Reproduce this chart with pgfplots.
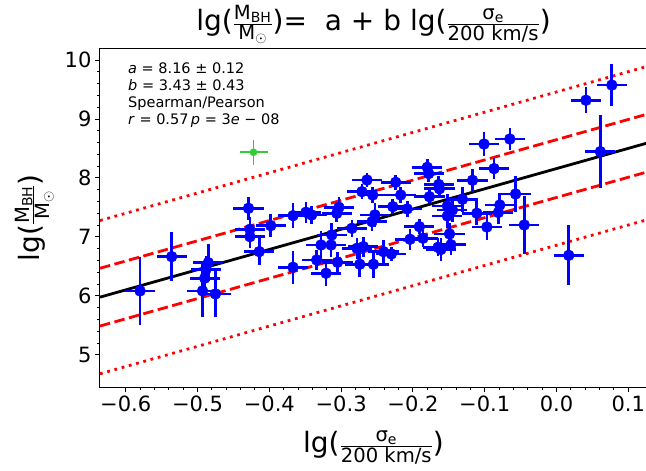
\documentclass[border=0pt]{standalone}
\usepackage{pgfplots}
\pgfplotsset{compat=1.18}
\usepackage{pgfplotstable}
\usepackage{amsmath}
\usepackage{fontspec}
\setmainfont{DejaVu Sans}
\usetikzlibrary{calc}

\definecolor{limeg}{RGB}{50,205,50}

% lg(sigma_e/200 km/s), lg(M_BH/M_sun) and their errors
\pgfplotstableread{
x y ex ey
-0.580 6.085 0.021 0.58
-0.536 6.666 0.021 0.42
-0.485 6.564 0.021 0.31
-0.488 6.453 0.021 0.22
-0.490 6.300 0.021 0.22
-0.493 6.085 0.021 0.45
-0.475 6.034 0.021 0.40
-0.429 7.486 0.021 0.19
-0.427 7.131 0.021 0.20
-0.427 7.005 0.021 0.20
-0.414 6.751 0.021 0.23
-0.398 7.192 0.021 0.19
-0.367 6.486 0.021 0.28
-0.367 7.361 0.021 0.21
-0.349 7.419 0.021 0.18
-0.341 7.373 0.021 0.15
-0.303 7.503 0.021 0.18
-0.306 7.402 0.021 0.15
-0.313 7.034 0.021 0.21
-0.328 6.864 0.021 0.23
-0.314 6.864 0.021 0.20
-0.334 6.610 0.021 0.17
-0.321 6.385 0.021 0.22
-0.305 6.571 0.021 0.18
-0.285 7.147 0.021 0.14
-0.264 7.966 0.021 0.12
-0.271 7.768 0.021 0.13
-0.256 7.712 0.021 0.14
-0.253 7.373 0.021 0.21
-0.257 7.259 0.021 0.15
-0.278 6.808 0.021 0.18
-0.269 6.836 0.021 0.17
-0.274 6.537 0.021 0.21
-0.255 6.537 0.021 0.23
-0.224 7.927 0.021 0.13
-0.217 7.712 0.021 0.14
-0.228 7.514 0.021 0.13
-0.208 7.475 0.021 0.14
-0.241 6.751 0.021 0.19
-0.230 6.712 0.021 0.12
-0.180 8.181 0.021 0.14
-0.177 7.683 0.021 0.11
-0.191 7.175 0.021 0.13
-0.204 6.961 0.021 0.18
-0.186 6.978 0.021 0.14
-0.165 6.825 0.021 0.15
-0.178 8.075 0.021 0.14
-0.164 7.890 0.021 0.15
-0.163 7.817 0.021 0.15
-0.152 7.525 0.021 0.20
-0.152 7.356 0.021 0.20
-0.145 7.458 0.021 0.20
-0.147 6.868 0.021 0.18
-0.161 6.788 0.021 0.20
-0.149 7.051 0.021 0.18
-0.131 7.639 0.021 0.21
-0.117 7.961 0.021 0.20
-0.111 7.402 0.021 0.20
-0.097 7.169 0.021 0.22
-0.101 8.576 0.021 0.20
-0.065 8.661 0.021 0.18
-0.087 8.159 0.021 0.18
-0.079 7.542 0.021 0.20
-0.081 7.415 0.021 0.20
-0.057 7.729 0.021 0.30
-0.045 7.203 0.021 0.49
0.017 6.688 0.021 0.51
0.041 9.319 0.021 0.22
0.061 8.447 0.021 0.62
0.077 9.576 0.021 0.35
}\sample

\pgfplotstableread{
x y ex ey
-0.422 8.436 0.0195 0.21
}\outlier

\newcommand{\lgmass}{lg($\frac{\text{M}_{\text{BH}}}{\text{M}_{\odot}}$)}
\newcommand{\lgsig}{lg($\frac{\text{σ}_{\text{e}}}{\text{200 km/s}}$)}

\begin{document}
\begin{tikzpicture}
\begin{axis}[
  name=ax,
  at={(0,0)}, anchor=south west,
  scale only axis,
  width=547pt, height=339pt,
  xmin=-0.6358, xmax=0.126,
  ymin=4.45, ymax=10.2,
  axis line style={black, line width=1pt},
  tick align=outside,
  tick pos=left,
  major tick length=5pt,
  minor tick length=2.8pt,
  tick style={black, line width=1pt},
  xtick={-0.6,-0.5,-0.4,-0.3,-0.2,-0.1,0.0,0.1},
  xticklabels={−0.6,−0.5,−0.4,−0.3,−0.2,−0.1,0.0,0.1},
  minor x tick num=4,
  ytick={5,6,7,8,9,10},
  minor y tick num=4,
  /pgf/number format/assume math mode=true,
  ticklabel style={font=\fontsize{21}{25}\selectfont},
  clip=true,
]
% fitted relation with scatter bands
\addplot[red, line width=2.8pt, line cap=butt, dash pattern=on 2.8pt off 4.7pt]
  coordinates {(-0.6358,7.279) (0.126,9.892)};
\addplot[red, line width=2.8pt, line cap=butt, dash pattern=on 2.8pt off 4.7pt]
  coordinates {(-0.6358,4.679) (0.126,7.292)};
\addplot[red, line width=2.8pt, line cap=butt, dash pattern=on 10.5pt off 4.5pt]
  coordinates {(-0.6358,6.469) (0.126,9.082)};
\addplot[red, line width=2.8pt, line cap=butt, dash pattern=on 10.5pt off 4.5pt]
  coordinates {(-0.6358,5.489) (0.126,8.102)};
\addplot[black, line width=2.8pt]
  coordinates {(-0.6358,5.979) (0.126,8.592)};

% galaxies
\addplot[only marks, mark=*, mark size=5.5pt, color=blue,
  mark options={fill=blue, draw=blue},
  error bars/.cd, x dir=both, x explicit, y dir=both, y explicit,
  error mark=none, error bar style={line width=2.7pt, blue}]
  table[x=x, y=y, x error=ex, y error=ey] {\sample};
\addplot[only marks, mark=*, mark size=3.6pt, color=limeg,
  mark options={fill=limeg, draw=limeg},
  error bars/.cd, x dir=both, x explicit, y dir=both, y explicit,
  error mark=none, error bar style={line width=1.8pt, limeg}]
  table[x=x, y=y, x error=ex, y error=ey] {\outlier};
\end{axis}

% fit summary
\node[anchor=north west, align=left, inner sep=0pt,
      font=\fontsize{14.5}{17}\selectfont]
  at ($(ax.north west)+(28pt,-14pt)$)
  {\textit{a} = 8.16 ± 0.12\\
   \textit{b} = 3.43 ± 0.43\\
   Spearman/Pearson\\
   \textit{r} = 0.57\,\textit{p} = 3\textit{e} − 08};

% title and axis labels
\node[anchor=base, inner sep=0pt, font=\fontsize{28}{34}\selectfont]
  at ($(ax.north)+(0,18pt)$) {\lgmass=\ \ a + b \lgsig};
\node[anchor=base, inner sep=0pt, font=\fontsize{28}{34}\selectfont]
  at ($(ax.south)+(0,-65pt)$) {\lgsig};
\node[anchor=base, rotate=90, inner sep=0pt, font=\fontsize{28}{34}\selectfont]
  at ($(ax.west)+(-60pt,0)$) {\lgmass};

\pgfresetboundingbox
\path[use as bounding box] ($(ax.south west)+(-100pt,-83.7pt)$) rectangle ($(ax.south west)+(546pt,387.3pt)$);
\end{tikzpicture}
\end{document}
